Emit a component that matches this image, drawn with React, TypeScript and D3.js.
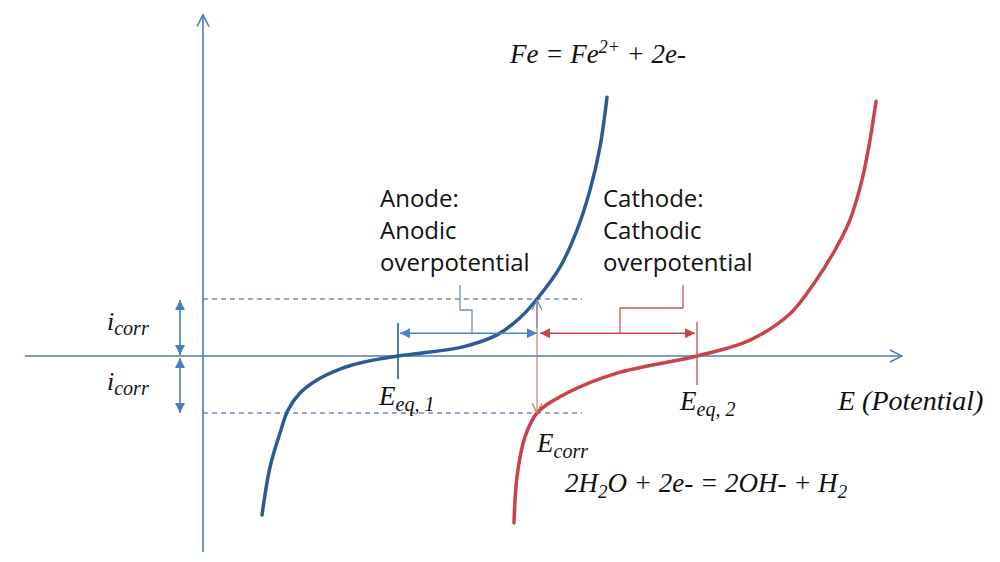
import * as d3 from "d3";

// polarization curves: E (potential) and i (current)
const anodeE = [0.59, 0.67, 0.77, 0.85, 0.97, 1.14, 1.37, 1.6, 1.95, 2.27, 2.6, 2.94, 3.17, 3.34, 3.57, 3.74, 3.87, 3.97, 4.04];
const anodeI = [-2.79, -1.95, -1.35, -0.95, -0.65, -0.42, -0.23, -0.11, 0, 0.07, 0.16, 0.37, 0.67, 1.0, 1.56, 2.21, 2.91, 3.67, 4.54];
const cathodeE = [3.11, 3.14, 3.22, 3.34, 3.64, 4.14, 4.94, 5.47, 5.87, 6.12, 6.32, 6.47, 6.59, 6.67, 6.73];
const cathodeI = [-2.93, -2.12, -1.42, -1.0, -0.65, -0.3, 0, 0.28, 0.74, 1.3, 1.86, 2.39, 3.09, 3.79, 4.47];

// key potentials and the corrosion current
const eqPotentials = [1.95, 4.94];
const eCorr = 3.34;
const iCorr = 1;

const W = 1000;
const H = 562;
const AXIS = "#4a7ebb";
const BLUE = "#2e5a94";
const RED = "#c8434b";
const MATH = "'Liberation Serif', 'DejaVu Serif', serif";
const SANS = "'Open Sans', Lato, sans-serif";

export default function App() {
  const x = d3.scaleLinear().domain([0, 7]).range([203, 903]);
  const y = d3.scaleLinear().domain([-3.5, 6]).range([555.5, 14]);

  const line = d3
    .line<[number, number]>()
    .x((d) => x(d[0]))
    .y((d) => y(d[1]))
    .curve(d3.curveCatmullRom.alpha(0.5));

  const anode = anodeE.map((e, k) => [e, anodeI[k]] as [number, number]);
  const cathode = cathodeE.map((e, k) => [e, cathodeI[k]] as [number, number]);

  const y0 = y(0);
  const yUp = y(iCorr);
  const yDn = y(-iCorr);
  const x0 = x(0);
  const xEq1 = x(eqPotentials[0]);
  const xEq2 = x(eqPotentials[1]);
  const xCorr = x(eCorr);
  const yArrow = y(0.4);

  return (
    <svg width={W} height={H} style={{ position: "absolute", left: 0, top: 0, background: "#fff" }}>
      <defs>
        <marker id="triB" viewBox="0 0 10 10" refX="10" refY="5" markerWidth="10" markerHeight="10" markerUnits="userSpaceOnUse" orient="auto-start-reverse">
          <path d="M0,0 L10,5 L0,10 Z" fill="#4a86c8" />
        </marker>
        <marker id="triR" viewBox="0 0 10 10" refX="10" refY="5" markerWidth="11" markerHeight="10" markerUnits="userSpaceOnUse" orient="auto-start-reverse">
          <path d="M0,0 L10,5 L0,10 Z" fill={RED} />
        </marker>
        <marker id="triA" viewBox="0 0 10 10" refX="10" refY="5" markerWidth="10" markerHeight="11" markerUnits="userSpaceOnUse" orient="auto-start-reverse">
          <path d="M0,0 L10,5 L0,10 Z" fill={AXIS} />
        </marker>
        <marker id="openA" viewBox="0 0 14 14" refX="13" refY="7" markerWidth="14" markerHeight="14" markerUnits="userSpaceOnUse" orient="auto">
          <path d="M1,1 L13,7 L1,13" fill="none" stroke={AXIS} strokeWidth="1.5" />
        </marker>
        <marker id="openR" viewBox="0 0 12 12" refX="11" refY="6" markerWidth="12" markerHeight="12" markerUnits="userSpaceOnUse" orient="auto">
          <path d="M1,1 L11,6 L1,11" fill="none" stroke="#d06a70" strokeWidth="1.2" />
        </marker>
        <marker id="openB" viewBox="0 0 12 12" refX="11" refY="6" markerWidth="12" markerHeight="12" markerUnits="userSpaceOnUse" orient="auto">
          <path d="M1,1 L11,6 L1,11" fill="none" stroke="#4a86c8" strokeWidth="1.2" />
        </marker>
      </defs>

      {/* axes */}
      <line x1={25} x2={x(6.99)} y1={y0} y2={y0} stroke={AXIS} strokeWidth={1.6} markerEnd="url(#openA)" />
      <line x1={x0} x2={x0} y1={552} y2={y(5.99)} stroke={AXIS} strokeWidth={1.6} markerEnd="url(#openA)" />

      {/* i_corr dashed levels */}
      {[yUp, yDn].map((yy, k) => (
        <line key={k} x1={x0} x2={582} y1={yy} y2={yy} stroke="#2f5597" strokeWidth={1.2} strokeDasharray="5,4" />
      ))}

      {/* i_corr double arrows */}
      <line x1={180} x2={180} y1={yUp + 1} y2={y0 - 1} stroke={AXIS} strokeWidth={1.6} markerStart="url(#triA)" markerEnd="url(#triA)" />
      <line x1={180} x2={180} y1={y0 + 2} y2={yDn} stroke={AXIS} strokeWidth={1.6} markerStart="url(#triA)" markerEnd="url(#triA)" />

      {/* curves */}
      <path d={line(anode) ?? ""} fill="none" stroke={BLUE} strokeWidth={3.5} strokeLinecap="round" />
      <path d={line(cathode) ?? ""} fill="none" stroke={RED} strokeWidth={3.5} strokeLinecap="round" />

      {/* equilibrium ticks */}
      <line x1={xEq1} x2={xEq1} y1={323} y2={379} stroke={BLUE} strokeWidth={1.6} />
      <line x1={xEq2} x2={xEq2} y1={322} y2={385} stroke="#c8575d" strokeWidth={1.4} />

      {/* overpotential spans */}
      <line x1={xEq1 + 2} x2={xCorr} y1={yArrow} y2={yArrow} stroke="#4a86c8" strokeWidth={1.6} markerStart="url(#triB)" markerEnd="url(#triB)" />
      <line x1={xCorr + 3} x2={xEq2 - 2} y1={yArrow} y2={yArrow} stroke={RED} strokeWidth={1.6} markerStart="url(#triR)" markerEnd="url(#triR)" />

      {/* leaders */}
      <polyline points={`460,285 460,310 472,310 472,${yArrow}`} fill="none" stroke="#6f8fb5" strokeWidth={1.3} />
      <polyline points={`683,285 683,308 620,308 620,${yArrow}`} fill="none" stroke="#c8575d" strokeWidth={1.3} />

      {/* E_corr drop line */}
      <line x1={xCorr} x2={xCorr} y1={(yUp + y0) / 2} y2={yUp + 1} stroke="#4a86c8" strokeWidth={1.1} markerEnd="url(#openB)" />
      <line x1={xCorr} x2={xCorr} y1={yUp + 1} y2={yDn} stroke="#d06a70" strokeWidth={1.1} markerEnd="url(#openR)" />

      {/* labels */}
      <g fontFamily={SANS} fontSize={24} fill="#111">
        <text x={380} y={207}>Anode:</text>
        <text x={380} y={239}>Anodic</text>
        <text x={380} y={271}>overpotential</text>
        <text x={603} y={207}>Cathode:</text>
        <text x={603} y={239}>Cathodic</text>
        <text x={603} y={271}>overpotential</text>
      </g>

      <g fontFamily={MATH} fontStyle="italic" fill="#111">
        <text x={510} y={63} fontSize={27}>
          Fe = Fe<tspan fontSize={18} dy={-10}>2+</tspan>
          <tspan dy={10}> + 2e-</tspan>
        </text>
        {[yUp, yDn].map((yy, k) => (
          <text key={k} x={107} y={yy + (k === 0 ? 31 : -23)} fontSize={26}>
            i<tspan fontSize={20} dy={5}>corr</tspan>
          </text>
        ))}
        <text x={379} y={405} fontSize={27}>
          E<tspan fontSize={20} dy={6}>eq, 1</tspan>
        </text>
        <text x={680} y={410} fontSize={27}>
          E<tspan fontSize={20} dy={6}>eq, 2</tspan>
        </text>
        <text x={537} y={452} fontSize={27}>
          E<tspan fontSize={20} dy={6}>corr</tspan>
        </text>
        <text x={838} y={410} fontSize={28}>E (Potential)</text>
        <text x={565} y={492} fontSize={27}>
          2H<tspan fontSize={19} dy={6}>2</tspan>
          <tspan dy={-6}>O + 2e- = 2OH- + H</tspan>
          <tspan fontSize={19} dy={6}>2</tspan>
        </text>
      </g>
    </svg>
  );
}
